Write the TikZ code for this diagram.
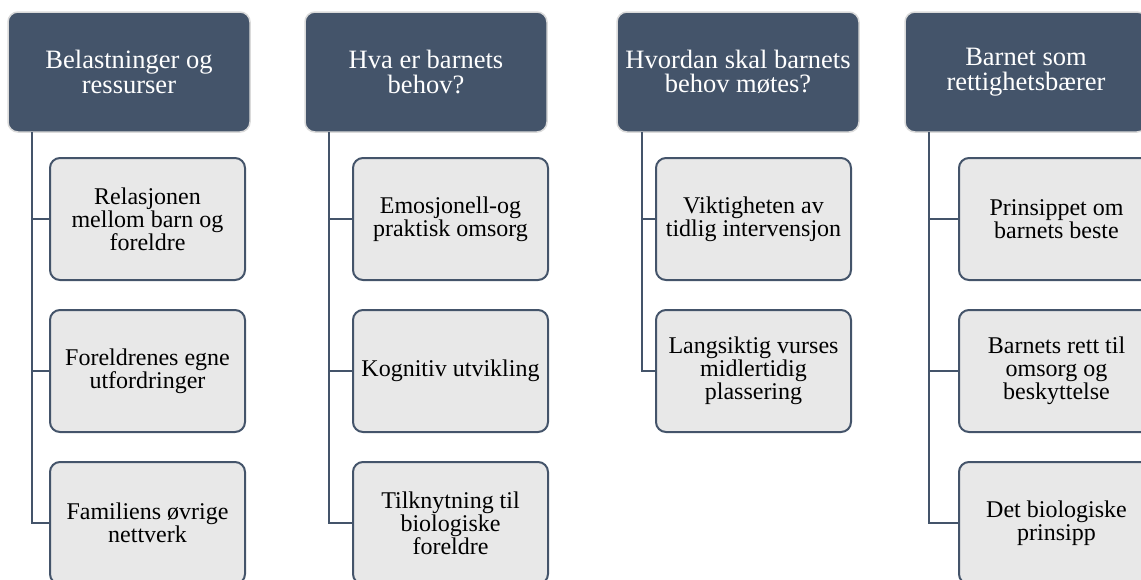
\documentclass[tikz,border=0pt]{standalone}
\usepackage{fontspec}
\setmainfont{Liberation Serif}
\usepackage{tikz}

\definecolor{slate}{HTML}{44546A}
\definecolor{paper}{HTML}{E8E8E8}
\definecolor{rim}{HTML}{DADADA}

\tikzset{
  hdr/.style = {draw = rim, line width = 1.5pt, fill = slate, text = white, rounded corners = 10pt,
    anchor = north west, minimum width = 242pt, minimum height = 120pt, inner sep = 0pt, outer sep = 0pt,
    align = center, font = \fontsize{26.5}{24.5}\selectfont},
  leaf/.style = {draw = slate, line width = 2pt, fill = paper, rounded corners = 10pt,
    anchor = north west, minimum width = 195pt, minimum height = 122pt, inner sep = 0pt, outer sep = 0pt,
    align = center, font = \fontsize{24}{23}\selectfont},
  conn/.style = {draw = slate, line width = 2.2pt}
}

\begin{document}
\begin{tikzpicture}[x = 1pt, y = -1pt]
\useasboundingbox (0, 0) rectangle (1141, 579);
\clip (0, 0) rectangle (1141, 579);
% Column 1
\node[hdr] (h1) at (8, 12) {Belastninger og\\ressurser};
\coordinate (t1) at (32, 132);
\node[leaf] (c11) at (50, 158) {Relasjonen\\mellom barn og\\foreldre};
\node[leaf] (c12) at (50, 310) {Foreldrenes egne\\utfordringer};
\node[leaf] (c13) at (50, 462) {Familiens øvrige\\nettverk};
\draw[conn] (t1) |- (c11.west);
\draw[conn] (t1) |- (c12.west);
\draw[conn] (t1) |- (c13.west);
% Column 2
\node[hdr] (h2) at (305, 12) {Hva er barnets\\behov?};
\coordinate (t2) at (329, 132);
\node[leaf] (c21) at (353, 158) {Emosjonell-og\\praktisk omsorg};
\node[leaf] (c22) at (353, 310) {Kognitiv utvikling};
\node[leaf] (c23) at (353, 462) {Tilknytning til\\biologiske\\foreldre};
\draw[conn] (t2) |- (c21.west);
\draw[conn] (t2) |- (c22.west);
\draw[conn] (t2) |- (c23.west);
% Column 3
\node[hdr] (h3) at (617, 12) {Hvordan skal barnets\\behov møtes?};
\coordinate (t3) at (642, 132);
\node[leaf] (c31) at (656, 158) {Viktigheten av\\tidlig intervensjon};
\node[leaf] (c32) at (656, 310) {Langsiktig vurses\\midlertidig\\plassering};
\draw[conn] (t3) |- (c31.west);
\draw[conn] (t3) |- (c32.west);
% Column 4
\node[hdr] (h4) at (905, 12) {Barnet som\\rettighetsbærer};
\coordinate (t4) at (929, 132);
\node[leaf] (c41) at (959, 158) {Prinsippet om\\barnets beste};
\node[leaf] (c42) at (959, 310) {Barnets rett til\\omsorg og\\beskyttelse};
\node[leaf] (c43) at (959, 462) {Det biologiske\\prinsipp};
\draw[conn] (t4) |- (c41.west);
\draw[conn] (t4) |- (c42.west);
\draw[conn] (t4) |- (c43.west);
\end{tikzpicture}
\end{document}
